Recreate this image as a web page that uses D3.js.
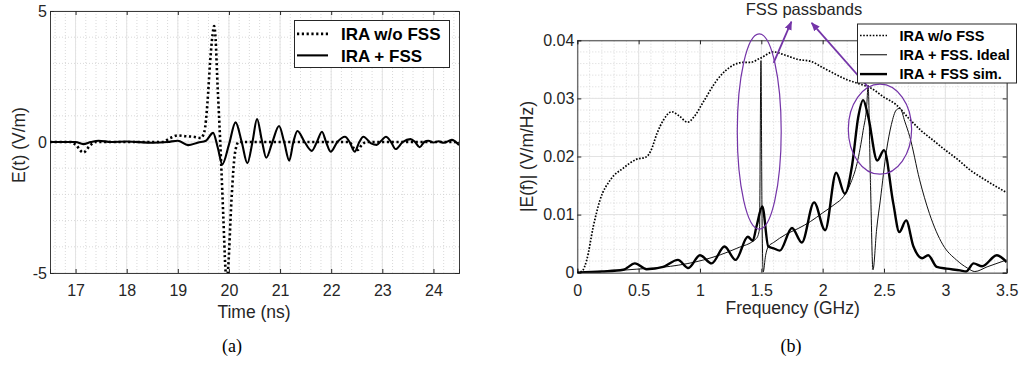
<!DOCTYPE html>
<html>
<head>
<meta charset="utf-8">
<script src="https://cdn.jsdelivr.net/npm/d3@7/dist/d3.min.js"></script>
<style>
  body { margin: 0; background: #fff; }
  svg { display: block; }
  text { font-family: Arial, "Liberation Sans", sans-serif; fill: #262626; }
  text.cap { font-family: "Liberation Serif", "Times New Roman", serif; fill: #000; }
</style>
</head>
<body>
<svg id="fig" width="1021" height="376"></svg>
<script>
// ---------- data: (a) time domain ----------
const timeTicks = [17, 18, 19, 20, 21, 22, 23, 24];
const eTicks = [-5, 0, 5];

// IRA w/o FSS  [t (ns), E (V/m)]
const eNoFss = [
  [16.5,0],[16.9,0],[17.0,-0.1],[17.15,-0.4],[17.3,-0.1],[17.4,0],[18.7,0],[18.85,0.15],
  [19.0,0.25],[19.15,0.22],[19.3,0.2],[19.45,0.15],[19.52,0.4],[19.58,1.5],[19.63,3.0],
  [19.68,4.1],[19.71,4.43],[19.74,3.9],[19.77,2.5],[19.83,0],[19.89,-2.85],[19.93,-4.8],
  [19.955,-5.4],[19.985,-4.8],[20.05,-2.2],[20.12,-0.4],[20.19,0],[22.35,0],[22.45,-0.25],
  [22.52,-0.3],[22.6,-0.1],[22.7,0],[24.5,0]
];

// IRA + FSS
const eFss = [
  [16.5,0],[17.0,0],[17.15,-0.08],[17.3,0],[17.45,0.05],[17.7,0],[18.0,0.02],[18.5,-0.03],
  [18.8,0],[19.0,0.05],[19.2,-0.12],[19.4,-0.02],[19.55,0.05],[19.69,0.35],[19.78,-0.2],
  [19.87,-0.85],[20.0,-0.1],[20.13,0.75],[20.25,0],[20.36,-0.81],[20.46,0],[20.55,0.88],
  [20.64,0.1],[20.73,-0.6],[20.85,0],[20.98,0.61],[21.08,0],[21.18,-0.71],[21.26,0],
  [21.34,0.42],[21.48,0],[21.62,-0.34],[21.72,0],[21.82,0.39],[21.9,0],[21.99,-0.37],
  [22.12,0],[22.27,0.2],[22.36,0],[22.46,-0.37],[22.55,0],[22.63,0.2],[22.78,-0.05],
  [22.89,-0.11],[22.98,0.05],[23.07,0.2],[23.17,0],[23.26,-0.27],[23.4,0],[23.55,0.11],
  [23.64,0],[23.73,-0.2],[23.82,0],[23.9,0.05],[24.0,-0.02],[24.1,0.03],[24.2,-0.03],
  [24.36,0.08],[24.5,-0.12]
];

// ---------- data: (b) frequency domain ----------
const freqTicks = [0, 0.5, 1, 1.5, 2, 2.5, 3, 3.5];
const magTicks = [0, 0.01, 0.02, 0.03, 0.04];

// IRA w/o FSS  [f (GHz), |E(f)|]
const fNoFss = [
  [0,0],[0.04,0.0003],[0.077,0.0022],[0.13,0.0079],[0.185,0.0125],[0.27,0.016],[0.375,0.018],
  [0.48,0.0195],[0.56,0.0199],[0.6,0.021],[0.65,0.024],[0.7,0.0262],[0.77,0.0277],[0.83,0.027],
  [0.9,0.0259],[0.95,0.0268],[1.03,0.0295],[1.14,0.0332],[1.27,0.0357],[1.35,0.0362],
  [1.41,0.0362],[1.49,0.0369],[1.6,0.038],[1.7,0.0374],[1.8,0.0367],[1.9,0.0364],[2.0,0.0353],
  [2.1,0.0342],[2.2,0.0332],[2.3,0.0325],[2.4,0.0317],[2.5,0.0302],[2.6,0.0289],[2.7,0.0266],
  [2.8,0.0245],[2.9,0.0228],[3.0,0.0211],[3.1,0.0195],[3.2,0.0177],[3.3,0.0163],[3.4,0.015],
  [3.5,0.0138]
];

// IRA + FSS. Ideal
const fIdeal = [
  [0,0],[0.2,0.0002],[0.48,0.0006],[0.76,0.0011],[1.03,0.0022],[1.3,0.0042],[1.46,0.0059],
  [1.485,0.0075],[1.497,0.0365],[1.505,0.012],[1.515,0.0001],[1.535,0.003],[1.557,0.0045],
  [1.6,0.0052],[1.7,0.0066],[1.8,0.0076],[1.9,0.0088],[2.0,0.0103],[2.1,0.0118],[2.17,0.0131],
  [2.23,0.0155],[2.28,0.0188],[2.33,0.0245],[2.36,0.029],[2.37,0.0323],[2.39,0.015],
  [2.41,0.0005],[2.44,0.0075],[2.47,0.0125],[2.52,0.021],[2.56,0.0255],[2.6,0.028],
  [2.63,0.0283],[2.67,0.026],[2.71,0.0234],[2.79,0.016],[2.87,0.0102],[2.98,0.0048],
  [3.09,0.0022],[3.18,0.0008],[3.24,0.0002],[3.34,0.001],[3.5,0.0022]
];

// IRA + FSS sim.
const fSim = [
  [0,0],[0.2,0.0002],[0.375,0.0005],[0.47,0.0016],[0.565,0.0006],[0.7,0.001],[0.82,0.0022],
  [0.905,0.0008],[1.0,0.003],[1.095,0.0016],[1.2,0.0045],[1.29,0.0022],[1.39,0.0062],
  [1.43,0.0055],[1.46,0.0079],[1.508,0.0114],[1.557,0.0045],[1.6,0.0042],[1.65,0.0038],
  [1.75,0.0077],[1.83,0.0052],[1.93,0.0121],[2.02,0.0073],[2.11,0.0172],[2.18,0.0136],
  [2.24,0.0185],[2.29,0.0268],[2.33,0.0297],[2.37,0.027],[2.445,0.0193],[2.5,0.0211],
  [2.575,0.012],[2.625,0.007],[2.68,0.009],[2.74,0.0045],[2.81,0.0025],[2.86,0.003],
  [2.93,0.001],[3.01,0.0007],[3.12,0.0004],[3.17,0.0002],[3.23,0.0016],[3.3,0.0011],
  [3.42,0.003],[3.5,0.0018]
];

// passband marks (data coords): ellipse centre, radii, arrow
const passbands = [
  {f: 1.483, v: 0.0243, rf: 0.179, rv: 0.0168, from: [1.6, 0.0361], to: [1.745, 0.0432]},
  {f: 2.467, v: 0.0247, rf: 0.258, rv: 0.00775, from: [2.369, 0.0320], to: [1.91, 0.0430]}
];

const svg = d3.select('#fig');
const purple = '#7434a8';

svg.append('defs').append('marker')
  .attr('id', 'arr').attr('viewBox', '0 0 10 10').attr('refX', 9).attr('refY', 5)
  .attr('markerWidth', 5).attr('markerHeight', 5).attr('orient', 'auto')
  .append('path').attr('d', 'M0,1 L10,5 L0,9 z').attr('fill', purple);

// draws frame, grid, ticks; returns the plot group
function makeAxes(id, x, y, xTicks, yTicks, xMinor, yMinor, xFmt, yFmt) {
  const g = svg.append('g').attr('class', id);
  const [x0, x1] = x.range(), [y0, y1] = y.range();

  g.append('clipPath').attr('id', 'clip-' + id).append('rect')
    .attr('x', x0).attr('y', y1).attr('width', x1 - x0).attr('height', y0 - y1);

  g.selectAll('.mx').data(xMinor).enter().append('line')
    .attr('x1', d => x(d)).attr('x2', d => x(d)).attr('y1', y0).attr('y2', y1)
    .attr('stroke', '#cfcfcf').attr('stroke-width', 0.8).attr('stroke-dasharray', '1,2');
  g.selectAll('.my').data(yMinor).enter().append('line')
    .attr('y1', d => y(d)).attr('y2', d => y(d)).attr('x1', x0).attr('x2', x1)
    .attr('stroke', '#cfcfcf').attr('stroke-width', 0.8).attr('stroke-dasharray', '1,2');
  g.selectAll('.gx').data(xTicks).enter().append('line')
    .attr('x1', d => x(d)).attr('x2', d => x(d)).attr('y1', y0).attr('y2', y1)
    .attr('stroke', '#e3e3e3').attr('stroke-width', 1);
  g.selectAll('.gy').data(yTicks).enter().append('line')
    .attr('y1', d => y(d)).attr('y2', d => y(d)).attr('x1', x0).attr('x2', x1)
    .attr('stroke', '#e3e3e3').attr('stroke-width', 1);

  const tl = 4;
  g.append('g').attr('transform', `translate(0,${y0})`)
    .call(d3.axisBottom(x).tickValues(xTicks).tickSize(-tl).tickPadding(12).tickFormat(xFmt));
  g.append('g').attr('transform', `translate(0,${y1})`)
    .call(d3.axisTop(x).tickValues(xTicks).tickSize(-tl).tickFormat(''));
  g.append('g').attr('transform', `translate(${x0},0)`)
    .call(d3.axisLeft(y).tickValues(yTicks).tickSize(-tl).tickPadding(3).tickFormat(yFmt));
  g.append('g').attr('transform', `translate(${x1},0)`)
    .call(d3.axisRight(y).tickValues(yTicks).tickSize(-tl).tickFormat(''));
  g.selectAll('.domain').attr('stroke', '#262626').attr('stroke-width', 0.9);
  g.selectAll('.tick line').attr('stroke', '#262626');
  g.selectAll('.tick text').attr('font-size', 16).attr('fill', '#262626')
    .attr('font-family', 'Arial, "Liberation Sans", sans-serif');
  return g;
}

function range(a, b, s) {
  const out = [];
  for (let i = 0; a + i * s <= b + 1e-9; i++) out.push(+(a + i * s).toFixed(6));
  return out;
}

function legend(x, y, w, h, rows, fs, lx0, lx1, tx, dys) {
  const lg = svg.append('g');
  lg.append('rect').attr('x', x).attr('y', y).attr('width', w).attr('height', h)
    .attr('fill', '#fff').attr('stroke', '#262626').attr('stroke-width', 1);
  rows.forEach((r, i) => {
    const ly = y + dys[i] - fs * 0.36;
    lg.append('line').attr('x1', lx0).attr('x2', lx1).attr('y1', ly).attr('y2', ly)
      .attr('stroke', '#000').attr('stroke-width', r.w).attr('stroke-dasharray', r.dash || null);
    lg.append('text').attr('x', tx).attr('y', y + dys[i]).attr('font-size', fs)
      .attr('font-weight', 'bold').style('fill', '#000').text(r.label);
  });
}

// ---------- (a) ----------
const xa = d3.scaleLinear().domain([16.5, 24.5]).range([50, 459]);
const ya = d3.scaleLinear().domain([-5, 5]).range([273, 11]);
const ga = makeAxes('a', xa, ya, timeTicks, eTicks,
  range(16.6, 24.4, 0.2), range(-4, 4, 1), d3.format('d'), d => d3.format('d')(d).replace('−', '-'));

const lineA = d3.line().x(d => xa(d[0])).y(d => ya(d[1])).curve(d3.curveMonotoneX);
const pa = ga.append('g').attr('clip-path', 'url(#clip-a)');
pa.append('path').datum(eNoFss).attr('d', lineA).attr('fill', 'none')
  .attr('stroke', '#000').attr('stroke-width', 2.6).attr('stroke-dasharray', '2.2,2.6');
pa.append('path').datum(eFss).attr('d', lineA).attr('fill', 'none')
  .attr('stroke', '#000').attr('stroke-width', 2.1);

svg.append('text').attr('x', 254).attr('y', 318).attr('text-anchor', 'middle')
  .attr('font-size', 17.5).text('Time (ns)');
svg.append('text').attr('transform', 'translate(25,145) rotate(-90)').attr('text-anchor', 'middle')
  .attr('font-size', 17.5).text('E(t) (V/m)');

legend(294.5, 20.5, 155, 47, [
  {label: 'IRA w/o FSS', w: 2.6, dash: '2.2,2.6'},
  {label: 'IRA + FSS', w: 2.1}
], 17, 297, 328, 341, [19.5, 41]);

// ---------- (b) ----------
const xb = d3.scaleLinear().domain([0, 3.5]).range([577.3, 1006.7]);
const yb = d3.scaleLinear().domain([0, 0.04]).range([272.7, 40.3]);
const gb = makeAxes('b', xb, yb, freqTicks, magTicks,
  range(0.1, 3.4, 0.1), range(0.002, 0.038, 0.002), d => d3.format('~g')(d), d => d3.format('~g')(d));

const lineB = d3.line().x(d => xb(d[0])).y(d => yb(d[1])).curve(d3.curveMonotoneX);
const pb = gb.append('g').attr('clip-path', 'url(#clip-b)');
pb.append('path').datum(fNoFss).attr('d', lineB).attr('fill', 'none')
  .attr('stroke', '#000').attr('stroke-width', 1.7).attr('stroke-dasharray', '1.6,1.6');
pb.append('path').datum(fIdeal).attr('d', lineB).attr('fill', 'none')
  .attr('stroke', '#111').attr('stroke-width', 1);
pb.append('path').datum(fSim).attr('d', lineB).attr('fill', 'none')
  .attr('stroke', '#000').attr('stroke-width', 2.4);

svg.append('text').attr('x', 792.7).attr('y', 314).attr('text-anchor', 'middle')
  .attr('font-size', 17.5).text('Frequency (GHz)');
svg.append('text').attr('transform', 'translate(533,156.5) rotate(-90)').attr('text-anchor', 'middle')
  .attr('font-size', 17.5).text('|E(f)| (V/m/Hz)');

// passband annotations
passbands.forEach(p => {
  svg.append('ellipse')
    .attr('cx', xb(p.f)).attr('cy', yb(p.v))
    .attr('rx', xb(p.rf) - xb(0)).attr('ry', yb(0) - yb(p.rv))
    .attr('fill', 'none').attr('stroke', purple).attr('stroke-width', 1.2);
  svg.append('line')
    .attr('x1', xb(p.from[0])).attr('y1', yb(p.from[1]))
    .attr('x2', xb(p.to[0])).attr('y2', yb(p.to[1]))
    .attr('stroke', purple).attr('stroke-width', 1.8).attr('marker-end', 'url(#arr)');
});
svg.append('text').attr('x', xb(1.848)).attr('y', 14.5).attr('text-anchor', 'middle')
  .attr('font-size', 16.5).text('FSS passbands');

legend(857.5, 24, 159, 59, [
  {label: 'IRA w/o FSS', w: 1.7, dash: '1.6,1.6'},
  {label: 'IRA + FSS. Ideal', w: 1},
  {label: 'IRA + FSS sim.', w: 2.4}
], 14.5, 860, 887, 899.5, [16.7, 36, 55.3]);

// sub-captions
svg.append('text').attr('class', 'cap').attr('x', 232).attr('y', 352).attr('text-anchor', 'middle')
  .attr('font-size', 18).text('(a)');
svg.append('text').attr('class', 'cap').attr('x', 791).attr('y', 352).attr('text-anchor', 'middle')
  .attr('font-size', 18).text('(b)');
</script>
</body>
</html>
